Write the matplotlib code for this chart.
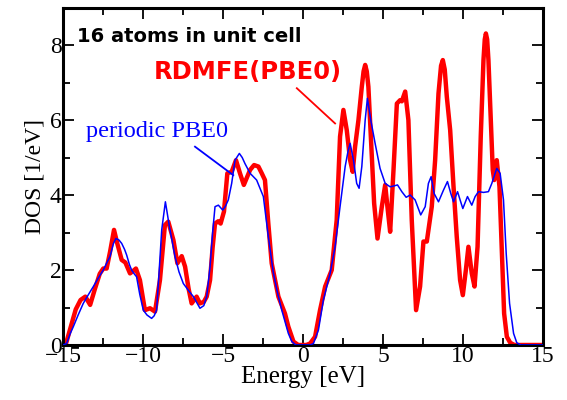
import matplotlib
matplotlib.use("Agg")
import matplotlib.pyplot as plt
from matplotlib.ticker import MultipleLocator

red_E = [-15.0, -14.8, -14.5, -14.2, -13.9, -13.6, -13.3, -13.0, -12.7, -12.48, -12.27, -12.05,
         -11.81, -11.6, -11.33, -11.1, -10.81, -10.6, -10.44, -10.19, -9.88, -9.56, -9.25,
         -8.94, -8.63, -8.42, -8.1, -7.85, -7.58, -7.37, -7.15, -6.96, -6.65, -6.44, -6.2,
         -6.02, -5.81, -5.65, -5.5, -5.3, -5.15, -4.94, -4.73, -4.46, -4.19, -3.94, -3.7,
         -3.31, -3.06, -2.79, -2.58, -2.38, -2.17, -1.96, -1.54, -1.13, -0.92, -0.6, -0.3,
         0.2, 0.44, 0.75, 1.06, 1.38, 1.79, 2.1, 2.31, 2.52, 2.73, 2.94, 3.1, 3.25, 3.46,
         3.67, 3.78, 3.88, 3.98, 4.08, 4.29, 4.44, 4.65, 4.92, 5.13, 5.27, 5.44, 5.65, 5.86,
         6.06, 6.17, 6.38, 6.58, 6.79, 7.06, 7.31, 7.52, 7.73, 8.04, 8.25, 8.46, 8.62, 8.73,
         8.85, 8.98, 9.19, 9.4, 9.6, 9.81, 9.98, 10.17, 10.33, 10.54, 10.71, 10.9, 11.1,
         11.27, 11.35, 11.42, 11.5, 11.58, 11.73, 11.85, 11.94, 12.1, 12.27, 12.42, 12.56,
         12.73, 12.94, 13.2, 15.0]
red_D = [0.0, 0.05, 0.5, 0.95, 1.2, 1.29, 1.07, 1.5, 1.9, 2.04, 2.04, 2.5,
         3.07, 2.7, 2.27, 2.2, 1.91, 1.98, 2.04, 1.73, 0.93, 0.98, 0.89,
         1.73, 3.2, 3.29, 2.8, 2.18, 2.37, 2.09, 1.5, 1.11, 1.29, 1.11, 1.15,
         1.29, 1.73, 2.6, 3.24, 3.3, 3.24, 3.56, 4.58, 4.62, 4.93, 4.58, 4.27,
         4.67, 4.8, 4.76, 4.58, 4.4, 3.24, 2.18, 1.29, 0.84, 0.49, 0.09, 0.0,
         0.0, 0.04, 0.22, 0.93, 1.56, 2.0, 3.33, 5.56, 6.27, 5.73, 4.93, 4.62, 5.29, 6.0,
         6.89, 7.3, 7.47, 7.3, 6.89, 5.11, 3.78, 2.84, 3.69, 4.27, 3.69, 3.02, 4.67, 6.44,
         6.53, 6.5, 6.76, 6.0, 3.33, 0.93, 1.56, 2.76, 2.76, 3.69, 4.93, 6.71, 7.45, 7.6,
         7.35, 6.62, 5.73, 4.22, 2.89, 1.73, 1.33, 2.0, 2.62, 1.91, 1.56, 2.62, 5.56,
         7.6, 8.15, 8.31, 8.15, 7.6, 6.0, 4.67, 4.4, 4.93, 4.22, 2.44, 0.84,
         0.22, 0.06, 0.0, 0.0]

blue_E = [-15.0, -14.77, -14.55, -14.35, -14.05, -13.73, -13.4, -13.1, -12.8, -12.48, -12.25,
          -12.06, -11.85, -11.69, -11.5, -11.33, -11.15, -11.02, -10.85, -10.71, -10.55, -10.4,
          -10.2, -9.98, -9.75, -9.46, -9.3, -9.15, -9.0, -8.83, -8.6, -8.35, -8.0, -7.75,
          -7.48, -7.15, -6.85, -6.6, -6.44, -6.2, -6.02, -5.81, -5.65, -5.5, -5.29, -5.02,
          -4.85, -4.67, -4.46, -4.25, -3.98, -3.8, -3.63, -3.31, -2.9, -2.48, -2.17, -1.85,
          -1.6, -1.33, -0.92, -0.7, -0.45, 0.45, 0.65, 0.96, 1.27, 1.69, 2.0, 2.31, 2.63,
          2.8, 2.94, 3.15, 3.35, 3.5, 3.67, 3.88, 4.02, 4.23, 4.5, 4.81, 5.13, 5.44, 5.65,
          5.9, 6.17, 6.44, 6.69, 7.0, 7.35, 7.63, 7.83, 8.0, 8.19, 8.46, 8.77, 9.02, 9.23,
          9.4, 9.65, 9.81, 9.98, 10.27, 10.54, 10.75, 10.96, 11.27, 11.58, 11.79, 12.1,
          12.31, 12.52, 12.69, 12.9, 13.15, 13.35, 13.6, 15.0]
blue_D = [0.0, 0.04, 0.3, 0.49, 0.8, 1.11, 1.35, 1.56, 1.78, 2.0, 2.2,
          2.36, 2.7, 2.84, 2.8, 2.71, 2.55, 2.4, 2.15, 2.0, 1.9, 1.82,
          1.35, 0.93, 0.8, 0.71, 0.78, 0.93, 1.9, 3.07, 3.82, 3.16, 2.36, 1.95,
          1.64, 1.45, 1.29, 1.1, 0.98, 1.05, 1.29, 2.09, 3.0, 3.69, 3.73, 3.6,
          3.7, 3.87, 4.31, 4.93, 5.11, 5.0, 4.84, 4.58, 4.4, 3.96, 2.89, 1.91,
          1.4, 0.93, 0.31, 0.09, 0.0, 0.0, 0.04, 0.4, 1.2, 1.91, 2.62, 3.69, 4.76,
          5.15, 5.38, 4.93, 4.31, 4.18, 4.76, 6.0, 6.58, 6.0, 5.38, 4.71, 4.31, 4.22, 4.24,
          4.27, 4.09, 3.94, 4.0, 3.87, 3.47, 3.69, 4.31, 4.49, 4.04, 3.82, 4.13, 4.36, 4.04,
          3.82, 4.09, 3.87, 3.64, 3.96, 3.73, 3.96, 4.09, 4.07, 4.09, 4.31, 4.71,
          4.58, 3.87, 2.44, 1.11, 0.31, 0.06, 0.0, 0.0]

serif = ["Liberation Serif", "DejaVu Serif"]

fig = plt.figure(figsize=(5.67, 4.0), dpi=100)
ax = fig.add_axes([0.111, 0.1375, 0.847, 0.8435])

ax.plot(red_E, red_D, color="#ff0000", lw=3.2, solid_joinstyle="round", solid_capstyle="round", zorder=2)
ax.plot(blue_E, blue_D, color="#0000ff", lw=1.1, solid_joinstyle="round", zorder=3)

ax.set_xlim(-15, 15)
ax.set_ylim(0, 9)
ax.xaxis.set_major_locator(MultipleLocator(5))
ax.xaxis.set_minor_locator(MultipleLocator(2.5))
ax.yaxis.set_major_locator(MultipleLocator(2))
ax.yaxis.set_minor_locator(MultipleLocator(1))
ax.tick_params(which="both", direction="in", top=True, right=True, width=1.3)
ax.tick_params(which="major", length=8, labelsize=17, pad=1)
ax.tick_params(which="minor", length=5)
for lab in ax.get_xticklabels() + ax.get_yticklabels():
    lab.set_family(serif)
for s in ax.spines.values():
    s.set_linewidth(2.2)

ax.set_xlabel("Energy [eV]", family=serif, fontsize=18, labelpad=-1)
ax.set_ylabel("DOS [1/eV]", family=serif, fontsize=17, labelpad=3)

ax.text(-14.1, 8.08, "16 atoms in unit cell", family="DejaVu Sans", fontweight="bold",
        fontsize=14, color="black", va="baseline", ha="left")
ax.text(-9.3, 7.1, "RDMFE(PBE0)", family="DejaVu Sans", fontweight="bold",
        fontsize=17.5, color="#ff0000", va="baseline", ha="left")
ax.text(-13.55, 5.55, "periodic PBE0", family=serif, fontsize=17.5, color="#0000ff",
        va="baseline", ha="left")
ax.plot([-6.75, -4.36], [5.29, 4.53], color="#0000ff", lw=1.3, zorder=4)
ax.plot([-0.39, 2.0], [6.85, 5.91], color="#ff0000", lw=1.3, zorder=4)

fig.savefig("out.png", dpi=100)
